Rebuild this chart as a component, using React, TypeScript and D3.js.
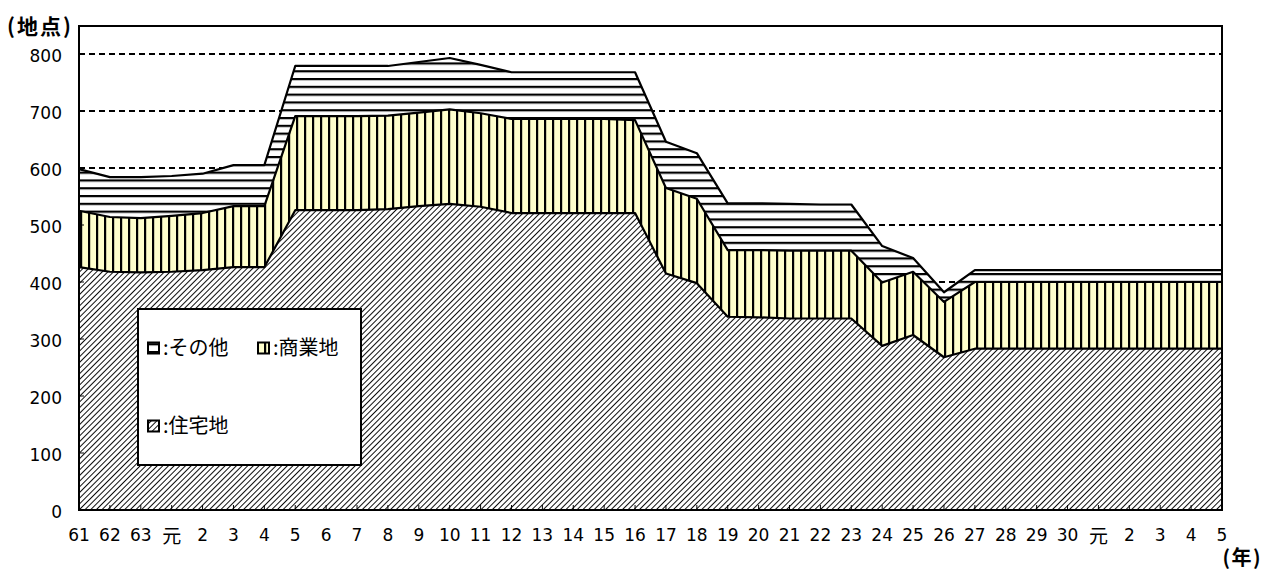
import React, { useEffect, useRef } from 'react';
import * as d3 from 'd3';

const W = 1266;
const H = 574;

// 年（昭和61〜平成30・令和元〜5）
const years = ['61', '62', '63', '元', '2', '3', '4', '5', '6', '7', '8', '9', '10', '11', '12', '13', '14', '15', '16', '17', '18', '19', '20', '21', '22', '23', '24', '25', '26', '27', '28', '29', '30', '元', '2', '3', '4', '5'];

// 住宅地
const residential = [426, 418, 417, 418, 421, 426, 426, 526, 526, 526, 528, 533, 537, 532, 521, 521, 521, 521, 521, 415, 398, 339, 338, 336, 336, 336, 288, 307, 268, 283, 283, 283, 283, 283, 283, 283, 283, 283];
// 商業地
const commercial = [99, 96, 95, 98, 100, 107, 107, 165, 165, 165, 164, 164, 166, 164, 165, 165, 165, 165, 163, 150, 148, 117, 118, 119, 119, 119, 111, 111, 97, 117, 117, 117, 117, 117, 117, 117, 117, 117];
// その他
const other = [73, 70, 72, 70, 69, 72, 72, 88, 88, 88, 87, 89, 90, 85, 82, 82, 82, 82, 84, 81, 80, 82, 82, 82, 81, 81, 64, 24, 17, 21, 21, 21, 21, 21, 21, 21, 21, 21];

const yTicks = [0, 100, 200, 300, 400, 500, 600, 700, 800];

const seriesKeys = ['residential', 'commercial', 'other'];
const seriesNames = ['住宅地', '商業地', 'その他'];

const numFont = '"DejaVu Sans", "Noto Sans CJK JP", sans-serif';
const jpFont = '"Noto Sans CJK JP", sans-serif';

export default function App() {
  const ref = useRef<SVGSVGElement>(null);

  useEffect(() => {
    if (!ref.current) return;
    const svg = d3.select(ref.current);
    svg.selectAll('*').remove();

    const left = 79, right = 1222, top = 26, bottom = 510;

    const x = d3.scalePoint<number>().domain(d3.range(years.length)).range([left, right]);
    const y = d3.scaleLinear().domain([0, 800]).range([bottom, 54]);

    const defs = svg.append('defs');

    // 斜線（住宅地）
    const p1 = defs.append('pattern').attr('id', 'pat-res').attr('patternUnits', 'userSpaceOnUse')
      .attr('width', 4).attr('height', 4).attr('patternTransform', 'rotate(45)');
    p1.append('rect').attr('width', 4).attr('height', 4).attr('fill', '#fff');
    p1.append('line').attr('x1', 0).attr('y1', 0).attr('x2', 0).attr('y2', 4)
      .attr('stroke', '#000').attr('stroke-width', 1.9);

    // 縦縞（商業地）
    const p2 = defs.append('pattern').attr('id', 'pat-com').attr('patternUnits', 'userSpaceOnUse')
      .attr('width', 8).attr('height', 8);
    p2.append('rect').attr('width', 8).attr('height', 8).attr('fill', '#ffffcc');
    p2.append('rect').attr('x', 0).attr('width', 2.2).attr('height', 8).attr('fill', '#000');

    // 横縞（その他）
    const p3 = defs.append('pattern').attr('id', 'pat-oth').attr('patternUnits', 'userSpaceOnUse')
      .attr('width', 8).attr('height', 7.8);
    p3.append('rect').attr('width', 8).attr('height', 7.8).attr('fill', '#fff');
    p3.append('rect').attr('y', 0).attr('width', 8).attr('height', 2.2).attr('fill', '#000');

    const fills = ['url(#pat-res)', 'url(#pat-com)', 'url(#pat-oth)'];

    // 背景
    svg.append('rect').attr('x', left).attr('y', top).attr('width', right - left).attr('height', bottom - top)
      .attr('fill', '#fff');

    // グリッド
    svg.append('g').selectAll('line').data(yTicks.filter(d => d > 0)).join('line')
      .attr('x1', left).attr('x2', right).attr('y1', d => y(d)).attr('y2', d => y(d))
      .attr('stroke', '#000').attr('stroke-width', 1.8).attr('stroke-dasharray', '6,4');

    const rows = years.map((_, i) => ({
      i,
      residential: residential[i],
      commercial: commercial[i],
      other: other[i],
    }));
    const stacked = d3.stack<any>().keys(seriesKeys)(rows);

    const area = d3.area<any>()
      .x(d => x(d.data.i) as number)
      .y0(d => y(d[0]))
      .y1(d => y(d[1]));
    const line = d3.line<any>()
      .x(d => x(d.data.i) as number)
      .y(d => y(d[1]));

    const g = svg.append('g');
    stacked.forEach((s, k) => {
      g.append('path').datum(s).attr('d', area).attr('fill', fills[k]);
    });
    stacked.forEach(s => {
      g.append('path').datum(s).attr('d', line).attr('fill', 'none')
        .attr('stroke', '#000').attr('stroke-width', 2.2).attr('stroke-linejoin', 'round');
    });

    // 枠
    svg.append('rect').attr('x', left).attr('y', top).attr('width', right - left).attr('height', bottom - top)
      .attr('fill', 'none').attr('stroke', '#000').attr('stroke-width', 2);

    // 目盛り
    svg.append('g').selectAll('line').data(yTicks).join('line')
      .attr('x1', left).attr('x2', left + 5).attr('y1', d => y(d)).attr('y2', d => y(d))
      .attr('stroke', '#000').attr('stroke-width', 1);
    svg.append('g').selectAll('line').data(d3.range(years.length)).join('line')
      .attr('x1', d => x(d) as number).attr('x2', d => x(d) as number)
      .attr('y1', bottom).attr('y2', bottom - 5)
      .attr('stroke', '#000').attr('stroke-width', 1);

    // Y軸ラベル
    svg.append('g').selectAll('text').data(yTicks).join('text')
      .attr('x', 62).attr('y', d => y(d) + 8)
      .attr('text-anchor', 'end').attr('font-family', numFont).attr('font-size', 17)
      .text(d => String(d));

    // X軸ラベル
    svg.append('g').selectAll('text').data(d3.range(years.length)).join('text')
      .attr('x', d => x(d) as number).attr('y', d => years[d] === '元' ? 543 : 541)
      .attr('text-anchor', 'middle').attr('font-family', numFont)
      .attr('font-size', d => years[d] === '元' ? 19 : 17)
      .text(d => years[d]);

    svg.append('text').attr('x', 7).attr('y', 34).attr('font-family', jpFont)
      .attr('font-size', 21).attr('font-weight', 'bold').attr('letter-spacing', 2).text('(地点)');
    svg.append('text').attr('x', 1262).attr('y', 565).attr('text-anchor', 'end').attr('font-family', jpFont)
      .attr('font-size', 20).attr('font-weight', 'bold').attr('letter-spacing', 1.5).text('(年)');

    // 凡例
    const lg = svg.append('g');
    lg.append('rect').attr('x', 138).attr('y', 309).attr('width', 223).attr('height', 156)
      .attr('fill', '#fff').attr('stroke', '#000').attr('stroke-width', 2);
    const items = [
      { k: 2, x: 148, y: 348 },
      { k: 1, x: 258, y: 348 },
      { k: 0, x: 148, y: 426 },
    ];
    items.forEach(it => {
      lg.append('rect').attr('x', it.x).attr('y', it.y - 5.5).attr('width', 11).attr('height', 11)
        .attr('fill', fills[it.k]).attr('stroke', '#000').attr('stroke-width', 2);
      lg.append('text').attr('x', it.x + 15).attr('y', it.y + 7).attr('font-family', jpFont)
        .attr('font-size', 20).text(':' + seriesNames[it.k]);
    });
  }, []);

  return (
    <svg
      ref={ref}
      width={W}
      height={H}
      style={{ position: 'absolute', left: 0, top: 0, background: '#fff' }}
    />
  );
}
